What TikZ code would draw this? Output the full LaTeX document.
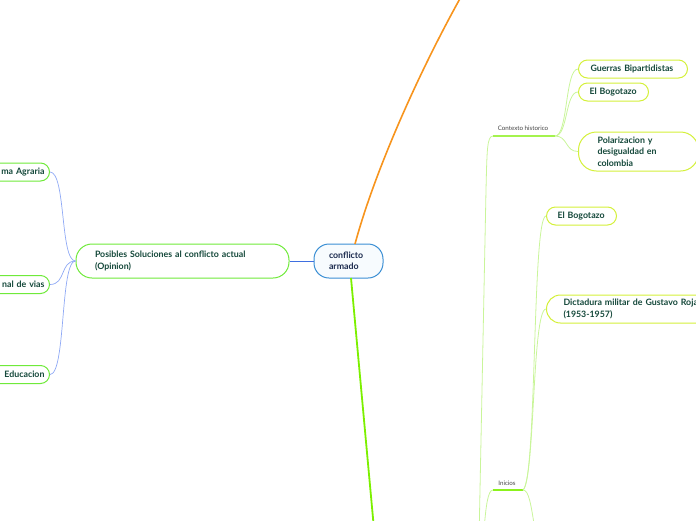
\documentclass[tikz,border=0pt]{standalone}
\usepackage{fontspec}
\setmainfont{Lato}
\begin{document}
\begin{tikzpicture}[x=1pt,y=-1pt,
  txt/.style={font=\fontsize{8.8}{11.3}\selectfont\bfseries},
  rootbox/.style={draw=rootblue,line width=1pt,fill=rootfill,rounded corners=15pt,text=navy,txt,align=left,anchor=center,minimum height=34pt,inner ysep=0pt},
  gbox/.style={draw=boxgreen,line width=1pt,fill=white,text=darkgreen,txt,align=left,inner ysep=0pt},
  ybox/.style={draw=boxyellow,line width=1pt,fill=white,text=darkgreen,txt,align=left,inner ysep=0pt},
  lbl/.style={font=\fontsize{6.2}{7}\selectfont,text=labelgray,inner sep=0pt},
  blueline/.style={draw=connblue,line width=0.7pt},
  lgline/.style={draw=lightgreen,line width=0.8pt},
]
\definecolor{rootblue}{HTML}{3B8FD4}
\definecolor{rootfill}{HTML}{F7FBFE}
\definecolor{navy}{HTML}{1B2A4E}
\definecolor{boxgreen}{HTML}{6FEA3A}
\definecolor{boxyellow}{HTML}{D4F03A}
\definecolor{darkgreen}{HTML}{14483A}
\definecolor{labelgray}{HTML}{444444}
\definecolor{connblue}{HTML}{8FA9F5}
\definecolor{midblue}{HTML}{3F6FE0}
\definecolor{orangeline}{HTML}{F7941D}
\definecolor{maingreen}{HTML}{7CF000}
\definecolor{lightgreen}{HTML}{C9F59A}
\definecolor{ingreen}{HTML}{8BF21C}
\useasboundingbox (0,0) rectangle (696,520);
\clip (0,0) rectangle (696,520);

% root
\node[rootbox,text width=39pt,inner xsep=15pt] (root) at (348.5,261) {conflicto\\armado};

% left branch
\node[gbox,rounded corners=16pt,text width=175pt,inner xsep=19pt,minimum height=34pt] (sol) at (182.5,261) {Posibles Soluciones al conflicto actual\\(Opinion)};
\node[gbox,rounded corners=9pt,text width=80pt,align=right,inner xsep=5pt,minimum height=18pt,anchor=east] (agr) at (50,172) {ma Agraria};
\node[gbox,rounded corners=9pt,text width=80pt,align=right,inner xsep=5pt,minimum height=18pt,anchor=east] (vias) at (50,284.5) {nal de vias};
\node[gbox,rounded corners=9pt,text width=80pt,align=right,inner xsep=5pt,minimum height=18pt,anchor=east] (edu) at (50,374.5) {Educacion};

\draw[draw=midblue,line width=0.8pt] (root.west) -- (sol.east);
\draw[blueline] (sol.west) .. controls (60,261) and (66,172) .. (agr.east);
\draw[blueline] (sol.west) .. controls (60,261) and (66,284.5) .. (vias.east);
\draw[blueline] (sol.west) .. controls (60,261) and (66,374.5) .. (edu.east);

% top and bottom main branches
\coordinate (topend) at (462,-5);
\coordinate (botend) at (375,540);
\draw[draw=orangeline,line width=1.6pt] (355,244) .. controls (375,170) and (420,70) .. (topend);
\draw[draw=maingreen,line width=1.8pt] (351,278) -- (botend);

% Contexto historico
\node[lbl] (ctx) at (523,128) {Contexto historico};
\coordinate (ctxw) at (493,136);
\coordinate (ctxe) at (555,136);
\draw[draw=ingreen!60!lightgreen,line width=1.3pt] (ctxw) -- (ctxe);
\coordinate (ctxpar) at (479,540);
\draw[lgline] (ctxpar) -- (486,190) .. controls (487,150) and (487,136) .. (ctxw);

\node[ybox,rounded corners=9pt,minimum height=18pt,minimum width=109pt,text width=85pt,inner xsep=12pt,anchor=west] (guer) at (578,69) {Guerras Bipartidistas};
\node[ybox,rounded corners=9pt,minimum height=18pt,minimum width=70pt,text width=48pt,inner xsep=11pt,anchor=west] (bog1) at (578,92) {El Bogotazo};
\node[ybox,rounded corners=18pt,minimum height=39pt,text width=82pt,inner xsep=19pt,anchor=west] (pol) at (578,151.5) {Polarizacion y\\desigualdad en\\colombia};

\draw[lgline] (ctxe) .. controls (568,136) and (565,69) .. (guer.west);
\draw[lgline] (ctxe) .. controls (568,136) and (565,92) .. (bog1.west);
\draw[lgline] (ctxe) .. controls (568,136) and (565,151.5) .. (pol.west);

% Inicios
\node[lbl] (ini) at (507,483) {Inicios};
\coordinate (iniw) at (493,490);
\coordinate (inie) at (523,490);
\draw[draw=ingreen,line width=1.5pt] (iniw) -- (inie);
\coordinate (inipar) at (484,530);
\draw[lgline] (iniw) .. controls (488,490) and (486,505) .. (inipar);
\coordinate (inichild) at (535,530);
\draw[lgline] (inie) .. controls (529,490) and (531,505) .. (inichild);

\node[ybox,rounded corners=9pt,minimum height=18pt,minimum width=70pt,text width=48pt,inner xsep=11pt,anchor=west] (bog2) at (546,216) {El Bogotazo};
\node[ybox,rounded corners=14pt,minimum height=28pt,text width=160pt,inner xsep=17pt,anchor=west] (dict) at (546,309) {Dictadura militar de Gustavo Roja\\(1953-1957)};

\draw[lgline] (inie) .. controls (537,480) and (532,216) .. (bog2.west);
\draw[lgline] (inie) .. controls (535,480) and (532,309) .. (dict.west);
\end{tikzpicture}
\end{document}
